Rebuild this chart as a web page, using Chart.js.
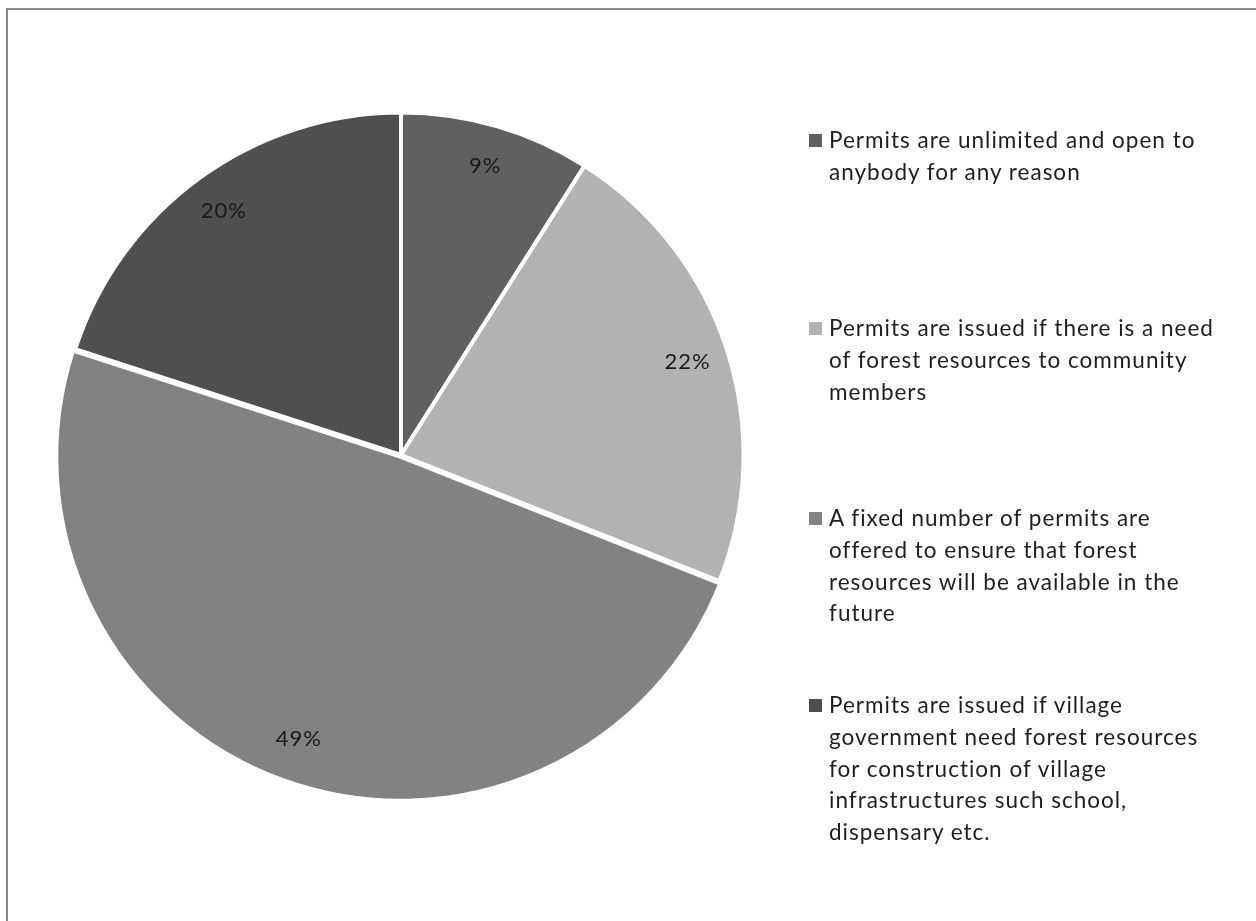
<!DOCTYPE html>
<html>
<head>
<meta charset="utf-8">
<script src="https://cdn.jsdelivr.net/npm/chart.js@4"></script>
<style>
  body { margin: 0; background: #fff; font-family: Lato, "Open Sans", sans-serif; }
  #wrap { position: relative; width: 1256px; height: 921px; overflow: hidden; }
  #frame { position: absolute; left: 6px; top: 8px; width: 1260px; height: 940px;
           border: 2px solid #8a8a8a; box-sizing: border-box; }
  #pie { position: absolute; left: 0; top: 0; }
  .item { position: absolute; left: 809px; font-size: 22.5px; line-height: 31.8px; color: #1e1e1e;
          letter-spacing: 1px; }
  .item .box { position: absolute; left: 0; top: 10px; width: 13px; height: 13px; }
  .item .txt { margin-left: 20px; white-space: nowrap; }
</style>
</head>
<body>
<div id="wrap">
  <div id="frame"></div>
  <canvas id="pie" width="1256" height="921"></canvas>
  <div id="legend"></div>
</div>
<script>
// permit-issuing practices, share of responses (%)
var categories = [
  ["Permits are unlimited and open to", "anybody for any reason"],
  ["Permits are issued if there is a need", "of forest resources to community", "members"],
  ["A fixed number of permits are", "offered to ensure that forest", "resources will be available in the", "future"],
  ["Permits are issued if village", "government need forest resources", "for construction of village", "infrastructures such school,", "dispensary etc."]
];
var shares = [9, 22, 49, 20];
var colors = ["#606060", "#b2b2b2", "#828282", "#4f4f4f"];
var legendTops = [124, 312, 502, 689];

// percentage labels placed inside each slice
var sliceLabels = {
  id: 'sliceLabels',
  afterDatasetsDraw: function(chart) {
    var ctx = chart.ctx;
    var arcs = chart.getDatasetMeta(0).data;
    ctx.save();
    ctx.font = '22px Lato, "Open Sans", sans-serif';
    ctx.letterSpacing = '1px';
    ctx.fillStyle = '#1a1a1a';
    ctx.textAlign = 'center';
    ctx.textBaseline = 'middle';
    arcs.forEach(function(arc, i) {
      var p = arc.getProps(['x', 'y', 'startAngle', 'endAngle', 'outerRadius']);
      var mid = (p.startAngle + p.endAngle) / 2;
      var r = p.outerRadius * 0.88;
      ctx.fillText(shares[i] + '%', p.x + Math.cos(mid) * r, p.y + Math.sin(mid) * r);
    });
    ctx.restore();
  }
};

var chart = new Chart(document.getElementById('pie').getContext('2d'), {
  type: 'pie',
  data: {
    labels: categories.map(function(c) { return c.join(' '); }),
    datasets: [{
      data: shares,
      backgroundColor: colors,
      borderColor: '#ffffff',
      borderWidth: 4,
      offset: [0, 0, 7, 0]
    }]
  },
  options: {
    responsive: false,
    animation: false,
    layout: { padding: { left: 53, top: 106, right: 507, bottom: 117 } },
    plugins: { legend: { display: false }, tooltip: { enabled: false } }
  },
  plugins: [sliceLabels]
});

// legend built from the same arrays
var legend = document.getElementById('legend');
categories.forEach(function(lines, i) {
  var item = document.createElement('div');
  item.className = 'item';
  item.style.top = legendTops[i] + 'px';
  var box = document.createElement('div');
  box.className = 'box';
  box.style.background = colors[i];
  var txt = document.createElement('div');
  txt.className = 'txt';
  txt.innerHTML = lines.join('<br>');
  item.appendChild(box);
  item.appendChild(txt);
  legend.appendChild(item);
});
</script>
</body>
</html>
